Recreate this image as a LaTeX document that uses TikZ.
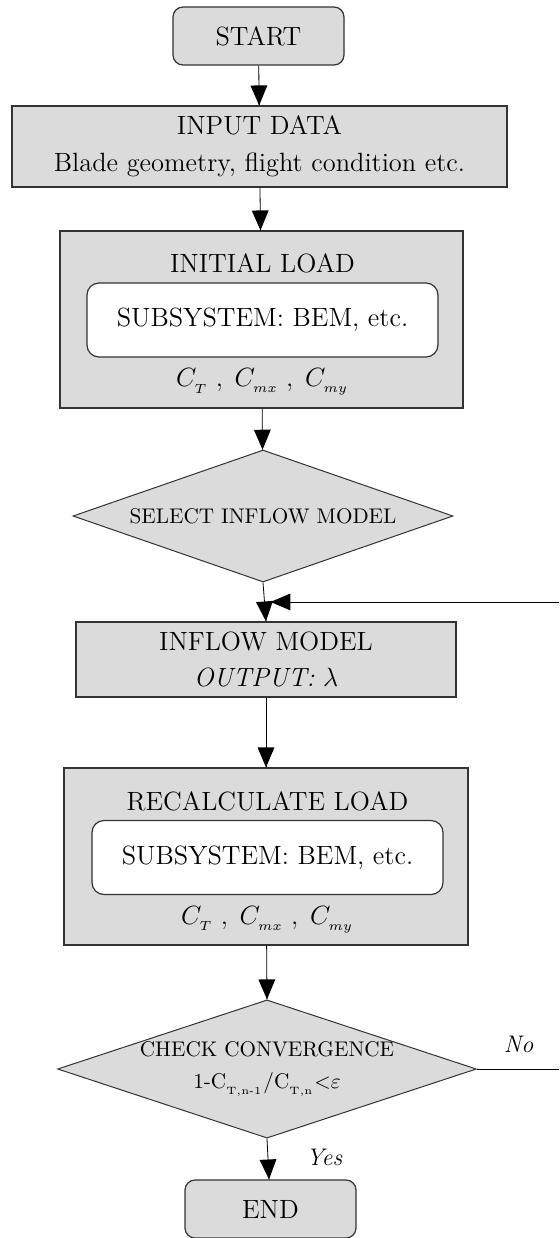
\documentclass[tikz,border=0pt]{standalone}
\usepackage{fix-cm}
\usepackage{amsmath}
\usepackage{amssymb}
\usepackage{fontspec}
\usepackage{tikz}
\usetikzlibrary{arrows}
\usetikzlibrary{decorations.markings}
\usetikzlibrary{positioning}
\usetikzlibrary{shapes.geometric}
\definecolor{boxgray}{gray}{0.86}
\newcommand{\blockfont}{\fontsize{13.2}{15.5}\selectfont}
\newcommand{\decfont}{\fontsize{10.6}{13}\selectfont}
\newcommand{\lblfont}{\fontsize{12}{14}\selectfont}
\tikzset{flow/.style = {decoration={markings,
                                    mark=at position 1 with {\arrow[scale=1.6]{triangle 45}}},
                        postaction={decorate}}}
\tikzset{term/.style = {draw = black!80, line width = 0.6pt, fill = boxgray, rounded corners = 5pt,
                        minimum width = 85.5pt, minimum height = 29pt, font = \blockfont}}
\tikzset{block/.style = {draw = black!80, line width = 0.6pt, fill = boxgray, align = center, font = \blockfont}}
\tikzset{subsys/.style = {draw = black!80, line width = 0.6pt, fill = white, rounded corners = 6pt,
                          minimum width = 175.5pt, minimum height = 37pt, font = \blockfont}}
\tikzset{decision/.style = {diamond, draw = black!80, line width = 0.5pt, fill = boxgray, inner sep = 0,
                            align = center, font = \decfont}}

\begin{document}
\begin{tikzpicture}[x = 0.5pt, y = 0.5pt]
      \useasboundingbox (0, 0) rectangle (559, -1238);
      \clip (0, 0) rectangle (559, -1238);

      % blocks of the loop, top to bottom
      \node (start) [term] at (258.5, -36) {START};
      \node (input) [block, minimum width = 247.5pt, minimum height = 40.5pt] at (259.5, -146.5)
            {INPUT DATA\\[3pt] Blade geometry, flight condition etc.};

      \node (initial) [block, minimum width = 201.5pt, minimum height = 88.5pt] at (261.5, -319.5) {};
      \node (initsub) [subsys] at (262.5, -320) {SUBSYSTEM: BEM, etc.};
      \node (inittitle) [above = 1pt of initsub, font = \blockfont] {INITIAL LOAD};
      \node (initcoef) [below = 2pt of initsub, font = \blockfont] {$C_{_T}\;,\;C_{_{mx}}\;,\;C_{_{my}}$};

      \node (select) [decision, aspect = 2.88, minimum width = 190pt, minimum height = 66pt] at (263, -516)
            {SELECT INFLOW MODEL};

      \node (inflow) [block, minimum width = 190pt, minimum height = 37.5pt] at (266, -659.5)
            {INFLOW MODEL\\[2.5pt] \textit{OUTPUT:} $\lambda$};

      \node (recalc) [block, minimum width = 202pt, minimum height = 88.5pt] at (266, -856.5) {};
      \node (recalcsub) [subsys] at (267.5, -857.5) {SUBSYSTEM: BEM, etc.};
      \node (recalctitle) [above = 1pt of recalcsub, font = \blockfont] {RECALCULATE LOAD};
      \node (recalccoef) [below = 2pt of recalcsub, font = \blockfont] {$C_{_T}\;,\;C_{_{mx}}\;,\;C_{_{my}}$};

      \node (check) [decision, aspect = 3.03, minimum width = 200pt, minimum height = 66pt] at (267, -1069)
            {CHECK CONVERGENCE\\[3pt]
             1-C$_{_{\mathrm{T,n\text{-}1}}}$/C$_{_{\mathrm{T,n}}}$$\mathord{<}\varepsilon$};

      \node (end) [term] at (270.5, -1209) {END};

      % connectors
      \draw [flow] (start) -- (input);
      \draw [flow] (input) -- (initial);
      \draw [flow] (initial) -- (select);
      \draw [flow] (select.south) -- coordinate (loopin) (inflow.north);
      \draw [flow] (inflow) -- (recalc);
      \draw [flow] (recalc) -- (check.north);
      \draw [flow] (check.south) -- (end);
      \draw [flow] (check.east) -- ++(60pt, 0) |- ([xshift = 3pt] loopin);

      \node (nolbl) [above right = 4.5pt and 10pt of check.east, font = \lblfont] {\textit{No}};
      \node (yeslbl) [below right = 1.5pt and 16pt of check.south, font = \lblfont] {\textit{Yes}};
\end{tikzpicture}
\end{document}
